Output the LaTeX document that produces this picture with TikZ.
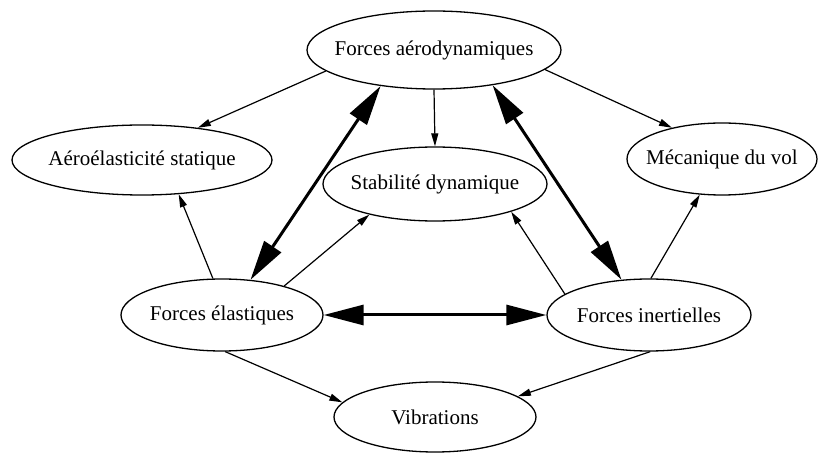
\documentclass[tikz,border=0pt]{standalone}
\usepackage{fontspec}
\setmainfont{Liberation Serif}
\usetikzlibrary{shapes.geometric,arrows.meta}
\begin{document}
\begin{tikzpicture}[x=1pt,y=1pt,
  box/.style={ellipse, draw, line width=1.3pt, inner sep=0pt,
    font=\fontsize{21}{25}\selectfont},
  link/.style={line width=1.2pt, -{Triangle[length=13pt,width=7pt]}},
  bond/.style={line width=3pt,
    {Triangle[length=40pt,width=20pt]}-{Triangle[length=40pt,width=20pt]}}]
\useasboundingbox (0,0) rectangle (820,453);

% the seven domains
\node[box, minimum width=254pt, minimum height=78pt] (fa) at (434,403)
  {\makebox[0pt]{Forces aérodynamiques}};
\node[box, minimum width=260pt, minimum height=70pt] (as) at (142,293)
  {\makebox[0pt]{Aéroélasticité statique}};
\node[box, minimum width=190pt, minimum height=72pt] (mv) at (722,294)
  {\makebox[0pt]{Mécanique du vol}};
\node[box, minimum width=224pt, minimum height=74pt] (sd) at (435,269)
  {\makebox[0pt]{Stabilité dynamique}};
\node[box, minimum width=202pt, minimum height=72pt] (fe) at (222,138)
  {\makebox[0pt]{Forces élastiques}};
\node[box, minimum width=204pt, minimum height=72pt] (fi) at (649,138)
  {\makebox[0pt]{Forces inertielles}};
\node[box, minimum width=202pt, minimum height=70pt] (vb) at (435,36)
  {\makebox[0pt]{Vibrations}};

% couplings between the three kinds of forces
\draw[bond] (fa.214) -- (fe.51);
\draw[bond] (fa.-31.5) -- (fi.128);
\draw[bond] (fe.0) -- (fi.180);

% resulting phenomena
\draw[link] (fa.191) -- (as.30);
\draw[link] (fa.270) -- (sd.90);
\draw[link] (fa.-10) -- (mv.148);
\draw[link] (fe.104) -- (as.-43);
\draw[link] (fe.25) -- (sd.205);
\draw[link] (fi.166) -- (sd.-20);
\draw[link] (fi.87) -- (mv.238);
\draw[link] (fe.-85) -- (vb.171);
\draw[link] (fi.-88) -- (vb.14);
\end{tikzpicture}
\end{document}
